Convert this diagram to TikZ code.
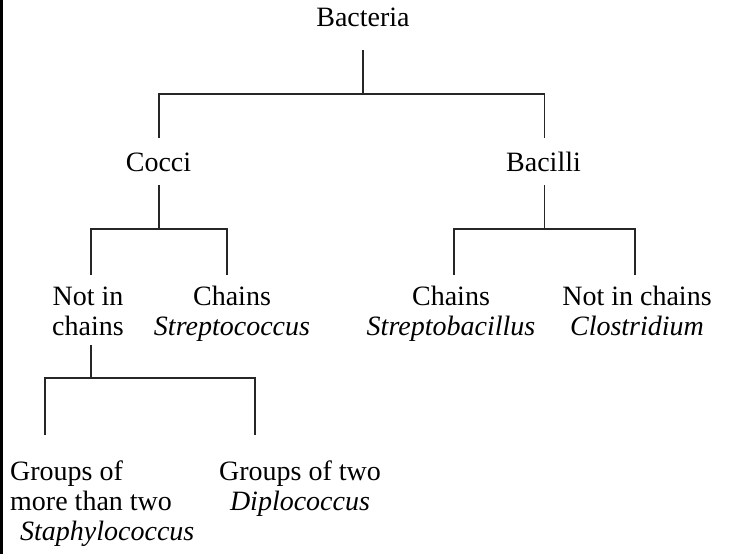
\documentclass[tikz,border=0pt]{standalone}
\usepackage{fontspec}
\setmainfont{Liberation Serif}
\usetikzlibrary{calc}
\begin{document}
\begin{tikzpicture}[x=1pt,y=-1pt,
  tree/.style={line width=1.3pt, draw=black!85},
  lbl/.style={font=\fontsize{28}{30}\selectfont, inner sep=0pt, align=center, anchor=base}]
\useasboundingbox (0,0) rectangle (732,554);
\fill[black] (0,0) rectangle (2.5,554);
\node[lbl] (bac) at (363,27) {Bacteria};
\node[lbl] (coc) at (158.5,171) {Cocci};
\node[lbl] (bcl) at (543.5,171) {Bacilli};
\node[lbl] (nic) at (88,335) {Not in\\chains};
\node[lbl] (chc) at (232,335) {Chains\\\textit{Streptococcus}};
\node[lbl] (chb) at (451,335) {Chains\\\textit{Streptobacillus}};
\node[lbl] (ncb) at (637,335) {Not in chains\\\textit{Clostridium}};
\node[lbl, align=left, anchor=base west] (gmt) at (10,540) {Groups of\\more than two\\\hspace*{10pt}\textit{Staphylococcus}};
\node[lbl] (gtw) at (300,510) {Groups of two\\\textit{Diplococcus}};
\coordinate (jb) at (363,94);
\coordinate (jc) at (159,229);
\coordinate (jl) at (544.5,229);
\coordinate (jn) at (91,378);
\draw[tree] ($(bac.base)+(0,23)$) -- (jb);
\draw[tree] (jb) -| ($(coc.base)+(0.5,-33)$);
\draw[tree] (jb) -| ($(bcl.base)+(1,-33)$);
\draw[tree] ($(coc.base)+(0.5,14)$) -- (jc);
\draw[tree] (jc) -| ($(nic.base)+(3,-60)$);
\draw[tree] (jc) -| ($(chc.base)+(-5,-60)$);
\draw[tree] ($(bcl.base)+(1,14)$) -- (jl);
\draw[tree] (jl) -| ($(chb.base)+(3,-60)$);
\draw[tree] (jl) -| ($(ncb.base)+(-2,-60)$);
\draw[tree] ($(nic.base)+(3,10)$) -- (jn);
\draw[tree] (jn) -| ($(gmt.base west)+(35,-105)$);
\draw[tree] (jn) -| ($(gtw.base)+(-45,-75)$);
\end{tikzpicture}
\end{document}
